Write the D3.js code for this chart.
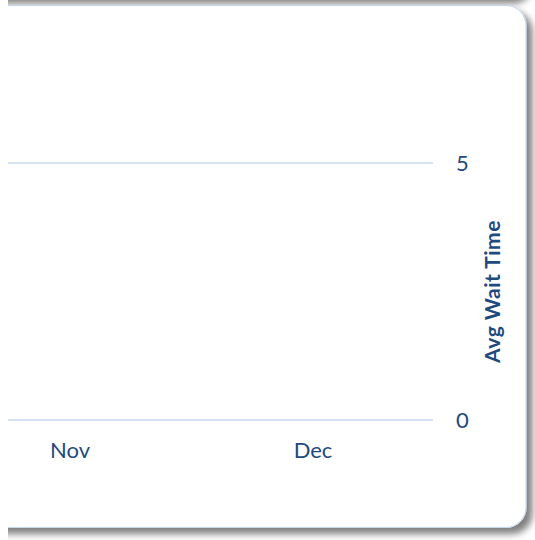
<!DOCTYPE html>
<html>
<head>
<meta charset="utf-8">
<script src="https://cdn.jsdelivr.net/npm/d3@7"></script>
<style>
  html, body { margin: 0; padding: 0; background: #ffffff; }
  svg { display: block; }
  text { font-family: Lato, "Open Sans", sans-serif; }
</style>
</head>
<body>
<div id="chart"></div>
<script>
// Months on the category axis
const months = ["Nov", "Dec"];
// Average wait time per month (no recorded values for these months)
const avgWaitTime = [null, null];
// Right-hand value axis ticks
const yTicks = [0, 5];
const yTitle = "Avg Wait Time";

const W = 535, H = 540;
const textColor = "#1f4a7e";
const gridColor = "#d5e2f3";

const svg = d3.select("#chart").append("svg")
  .attr("width", W).attr("height", H);

const defs = svg.append("defs");
const f = defs.append("filter").attr("id", "panelShadow")
  .attr("x", "-5%").attr("y", "-5%").attr("width", "115%").attr("height", "115%");
f.append("feGaussianBlur").attr("in", "SourceAlpha").attr("stdDeviation", 3.5).attr("result", "b");
f.append("feOffset").attr("in", "b").attr("dx", 6).attr("dy", 6).attr("result", "o");
f.append("feComponentTransfer").attr("in", "o").attr("result", "s")
  .append("feFuncA").attr("type", "linear").attr("slope", 0.5);
const m = f.append("feMerge");
m.append("feMergeNode").attr("in", "s");
m.append("feMergeNode").attr("in", "SourceGraphic");

defs.append("clipPath").attr("id", "viewClip")
  .append("rect").attr("x", 8).attr("y", 0).attr("width", W - 8).attr("height", H);

const frame = svg.append("g").attr("clip-path", "url(#viewClip)");

// Panel above (only its lower edge and shadow show)
frame.append("rect")
  .attr("x", -40).attr("y", -600).attr("width", 567).attr("height", 597)
  .attr("rx", 20).attr("ry", 20)
  .attr("fill", "#ffffff").attr("stroke", "#b9cde5").attr("stroke-width", 1)
  .attr("filter", "url(#panelShadow)");

// Chart panel
frame.append("rect")
  .attr("x", -40).attr("y", 5.5).attr("width", 566).attr("height", 522)
  .attr("rx", 20).attr("ry", 20)
  .attr("fill", "#ffffff").attr("stroke", "#c6d6ec").attr("stroke-width", 1)
  .attr("filter", "url(#panelShadow)");

// Scales
const plotRight = 433, plotLeft = 8;
const x = d3.scaleBand().domain(months).range([-51.5, 434.5]);
const y = d3.scaleLinear().domain([0, 5]).range([420, 163]);

const plot = frame.append("g");

// Horizontal gridlines
plot.append("g").selectAll("line").data(yTicks).join("line")
  .attr("x1", plotLeft).attr("x2", plotRight)
  .attr("y1", d => y(d)).attr("y2", d => y(d))
  .attr("stroke", gridColor).attr("stroke-width", 2);

// Series line (drawn only where values exist)
const line = d3.line()
  .defined(d => d.v != null)
  .x(d => x(d.m) + x.bandwidth() / 2)
  .y(d => y(d.v));
plot.append("path")
  .datum(months.map((mm, i) => ({ m: mm, v: avgWaitTime[i] })))
  .attr("d", line)
  .attr("fill", "none").attr("stroke", "#4f81bd").attr("stroke-width", 2.5);

// Right value axis
const yAxis = plot.append("g")
  .attr("transform", `translate(${plotRight},0)`)
  .call(d3.axisRight(y).tickValues(yTicks).tickSize(0).tickPadding(23).tickFormat(d3.format("d")));
yAxis.select(".domain").remove();
yAxis.selectAll("text")
  .attr("fill", textColor).style("font-size", "22px");

// Category axis
const xAxis = plot.append("g")
  .attr("transform", `translate(0,${y(0)})`)
  .call(d3.axisBottom(x).tickSize(0).tickPadding(22));
xAxis.select(".domain").remove();
xAxis.selectAll("text")
  .attr("fill", textColor).style("font-size", "22px");

// Axis title
plot.append("text")
  .attr("transform", `translate(500,${(y(0) + y(5)) / 2}) rotate(-90)`)
  .attr("text-anchor", "middle")
  .attr("fill", textColor)
  .style("font-size", "21px").style("font-weight", "bold")
  .style("letter-spacing", "0.5px")
  .text(yTitle);
</script>
</body>
</html>
